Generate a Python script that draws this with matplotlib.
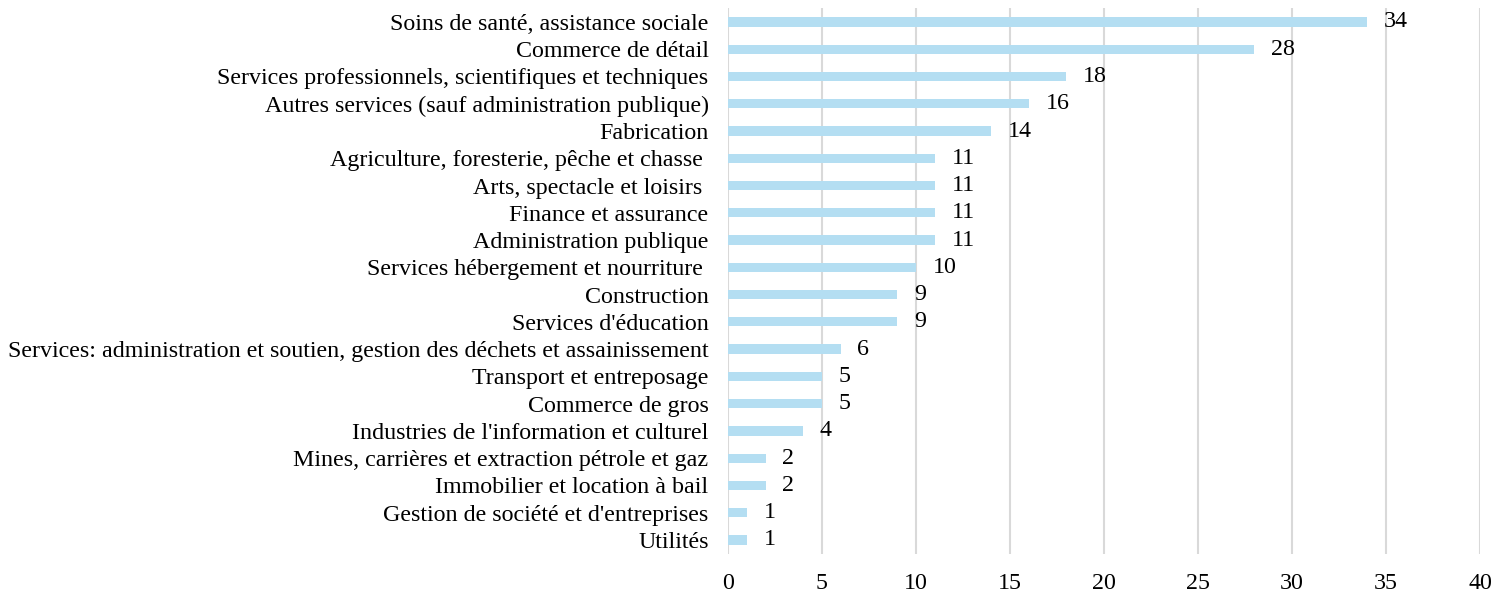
import matplotlib
matplotlib.use("Agg")
import matplotlib.pyplot as plt

categories = [
    "Soins de santé, assistance sociale",
    "Commerce de détail",
    "Services professionnels, scientifiques et techniques",
    "Autres services (sauf administration publique)",
    "Fabrication",
    "Agriculture, foresterie, pêche et chasse ",
    "Arts, spectacle et loisirs ",
    "Finance et assurance",
    "Administration publique",
    "Services hébergement et nourriture ",
    "Construction",
    "Services d'éducation",
    "Services: administration et soutien, gestion des déchets et assainissement",
    "Transport et entreposage",
    "Commerce de gros",
    "Industries de l'information et culturel",
    "Mines, carrières et extraction pétrole et gaz",
    "Immobilier et location à bail",
    "Gestion de société et d'entreprises",
    "Utilités",
]
values = [34, 28, 18, 16, 14, 11, 11, 11, 11, 10, 9, 9, 6, 5, 5, 4, 2, 2, 1, 1]
xticks = [0, 5, 10, 15, 20, 25, 30, 35, 40]

plt.rcParams["font.family"] = ["Liberation Serif", "DejaVu Serif"]
FS = 17.3

fig = plt.figure(figsize=(15.06, 5.94), dpi=100)
ax = fig.add_axes([0.4834, 0.068, 0.4993, 0.918])

ypos = list(range(len(categories)))
ax.barh(ypos, values, height=0.34, color="#B4DEF2", zorder=3)
ax.set_ylim(len(categories) - 0.5, -0.5)
ax.set_yticks(ypos)
ax.set_yticklabels(categories, fontsize=FS)
ax.set_xlim(0, 40)
ax.set_xticks(xticks)
ax.set_xticklabels([str(t) for t in xticks], fontsize=FS)
ax.tick_params(axis="y", length=0, pad=14)
ax.tick_params(axis="x", length=0, pad=14)
ax.grid(axis="x", color="#D9D9D9", linewidth=1.5, zorder=0)
for s in ax.spines.values():
    s.set_visible(False)

for y, v in zip(ypos, values):
    ax.annotate(str(v), xy=(v, y), xytext=(12, 0), textcoords="offset points",
                va="center", ha="left", fontsize=FS)

fig.savefig("out.png", dpi=100)
